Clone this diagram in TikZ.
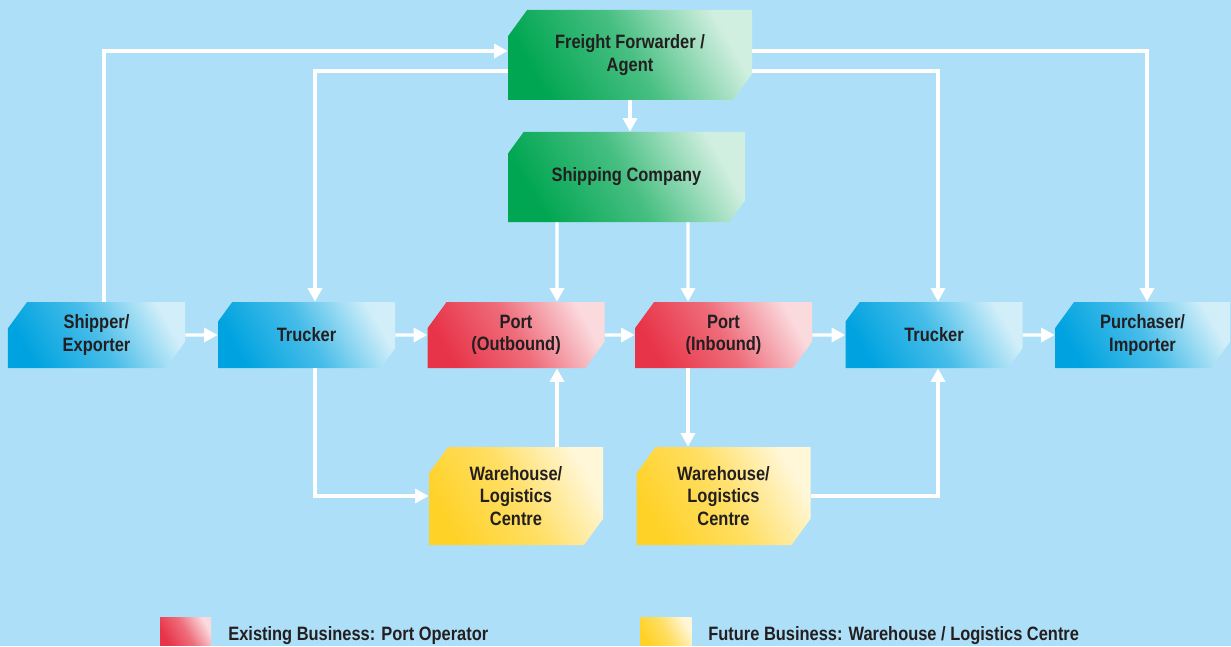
\documentclass[tikz,border=0pt]{standalone}
\usepackage{fontspec}
\setmainfont[FakeStretch=0.85]{Liberation Sans}
\usetikzlibrary{arrows.meta, shapes.misc, calc}
\definecolor{mybg}{RGB}{173,224,248}
\definecolor{myblue}{RGB}{0,163,224}
\definecolor{mygreen}{RGB}{0,166,81}
\definecolor{myred}{RGB}{232,52,72}
\definecolor{myyellow}{RGB}{255,210,40}
\definecolor{mytext}{RGB}{35,31,32}

\begin{document}
\begin{tikzpicture}[
    box/.style={chamfered rectangle, chamfered rectangle corners={north west,south east},
        chamfered rectangle angle=36, chamfered rectangle xsep=0.2cm, chamfered rectangle ysep=0.25cm,
        minimum width=3.54cm, minimum height=1.32cm, inner sep=0pt,
        align=center, font=\fontsize{11}{12.6}\selectfont\bfseries, text=mytext},
    shadefill/.style={top color=#1!18, bottom color=#1, middle color=#1!72, shading angle=-60},
    swatch/.style={rectangle, minimum width=1.02cm, minimum height=0.56cm, inner sep=0pt},
    flow/.style={draw=white, line width=1.8pt, -{Triangle[length=0.27cm,width=0.28cm]}},
    legtext/.style={anchor=base west, inner sep=0pt, font=\fontsize{11}{12.6}\selectfont\bfseries, text=mytext}]

    \fill[mybg] (0,0) rectangle (24.62,12.92);
    \useasboundingbox (0,0) rectangle (24.62,12.92);

    % agents (top)
    \node[box,shadefill=mygreen,minimum width=4.88cm,minimum height=1.8cm] (freight) at (12.6,11.82) {Freight Forwarder /\\Agent};
    \node[box,shadefill=mygreen,minimum width=4.74cm,minimum height=1.8cm] (shipping) at (12.53,9.38) {Shipping Company};

    % main chain
    \node[box,shadefill=myblue] (shipper) at (1.93,6.22) {Shipper/\\Exporter};
    \node[box,shadefill=myblue] (truckerl) at (6.13,6.22) {Trucker};
    \node[box,shadefill=myred] (portout) at (10.32,6.22) {Port\\(Outbound)};
    \node[box,shadefill=myred] (portin) at (14.47,6.22) {Port\\(Inbound)};
    \node[box,shadefill=myblue] (truckerr) at (18.68,6.22) {Trucker};
    \node[box,shadefill=myblue,minimum width=3.5cm] (purchaser) at (22.85,6.22) {Purchaser/\\Importer};

    % warehouses
    \node[box,shadefill=myyellow,minimum width=3.48cm,minimum height=1.96cm] (whl) at (10.32,3.0) {Warehouse/\\Logistics\\Centre};
    \node[box,shadefill=myyellow,minimum width=3.48cm,minimum height=1.96cm] (whr) at (14.47,3.0) {Warehouse/\\Logistics\\Centre};

    % legend
    \node[swatch,shadefill=myred] (legred) at (3.71,0.3) {};
    \node[legtext] (legredtext) at (4.56,0.12) {Existing Business: Port Operator};
    \node[swatch,shadefill=myyellow] (legyellow) at (13.32,0.3) {};
    \node[legtext] (legyellowtext) at (14.16,0.12) {Future Business: Warehouse / Logistics Centre};

    % links to and from the forwarder
    \draw[flow] ([xshift=0.15cm]shipper.north) |- ([yshift=0.08cm]freight.west);
    \draw[flow] ([yshift=-0.32cm]freight.west) -| ([xshift=0.17cm]truckerl.north);
    \draw[flow] ([yshift=0.08cm]freight.east) -| ([xshift=0.09cm]purchaser.north);
    \draw[flow] ([yshift=-0.32cm]freight.east) -| ([xshift=0.08cm]truckerr.north);
    \draw[flow] (freight.south) -- (freight.south |- shipping.north);
    \draw[flow] ([xshift=-1.39cm]shipping.south) -- ([xshift=0.82cm]portout.north);
    \draw[flow] ([xshift=1.23cm]shipping.south) -- ([xshift=-0.71cm]portin.north);

    % chain
    \draw[flow] (shipper) -- (truckerl);
    \draw[flow] (truckerl) -- (portout);
    \draw[flow] (portout) -- (portin);
    \draw[flow] (portin) -- (truckerr);
    \draw[flow] (truckerr) -- (purchaser);

    % warehouse links
    \draw[flow] ([xshift=0.17cm]truckerl.south) |- (whl.west);
    \draw[flow] ([xshift=0.82cm]whl.north) -- ([xshift=0.82cm]portout.south);
    \draw[flow] ([xshift=-0.71cm]portin.south) -- ([xshift=-0.71cm]whr.north);
    \draw[flow] (whr.east) -| ([xshift=0.08cm]truckerr.south);
\end{tikzpicture}
\end{document}
